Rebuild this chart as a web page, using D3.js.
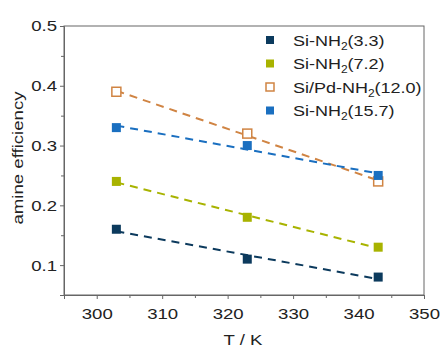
<!DOCTYPE html>
<html><head><meta charset="utf-8">
<script src="https://cdn.jsdelivr.net/npm/d3@7"></script>
<style>body{margin:0;background:#fff}svg{display:block}text{font-family:"Liberation Sans",Arial,sans-serif}</style>
</head><body><svg id="c" width="443" height="349"></svg>
<script>
const temps = [303, 323, 343];
const seriesNames = ["Si-NH2(3.3)", "Si-NH2(7.2)", "Si/Pd-NH2(12.0)", "Si-NH2(15.7)"];
const s33 = [0.16, 0.11, 0.08];
const s72 = [0.24, 0.18, 0.13];
const s120 = [0.39, 0.32, 0.24];
const s157 = [0.33, 0.30, 0.25];
const xTicks = [300, 310, 320, 330, 340, 350];
const yTicks = [0.1, 0.2, 0.3, 0.4, 0.5];

const colors = ["#0c3a5d", "#a8b300", "#d08443", "#1a6fc0"];
const hollow = [false, false, true, false];
const values = [s33, s72, s120, s157];

const svg = d3.select("#c");
const L = 64, R = 424, T = 26, B = 295;
const SX = 1.2;
const x = d3.scaleLinear().domain([295, 350]).range([L, R]);
const y = d3.scaleLinear().domain([0.05, 0.5]).range([B, T]);
const axisColor = "#666";

svg.append("rect").attr("x", L).attr("y", T).attr("width", R - L).attr("height", B - T)
  .attr("fill", "none").attr("stroke", axisColor).attr("stroke-width", 1);

const xMinor = d3.range(295, 351, 5).filter(v => v % 10 !== 0);
const yMinor = [0.05, 0.15, 0.25, 0.35, 0.45];
svg.append("g").attr("transform", `translate(0,${B})`)
  .call(d3.axisBottom(x).tickValues(xMinor).tickSize(3).tickFormat(""))
  .call(g => { g.select(".domain").remove(); g.selectAll("line").attr("stroke", axisColor); });
svg.append("g").attr("transform", `translate(${L},0)`)
  .call(d3.axisLeft(y).tickValues(yMinor).tickSize(3).tickFormat(""))
  .call(g => { g.select(".domain").remove(); g.selectAll("line").attr("stroke", axisColor); });

const xa = svg.append("g").attr("transform", `translate(0,${B})`)
  .call(d3.axisBottom(x).tickValues(xTicks).tickSize(4).tickPadding(9).tickFormat(d3.format("d")));
const ya = svg.append("g").attr("transform", `translate(${L},0)`)
  .call(d3.axisLeft(y).tickValues(yTicks).tickSize(4).tickPadding(4).tickFormat(d3.format(".1f")));
[xa, ya].forEach(g => {
  g.select(".domain").attr("stroke", axisColor);
  g.selectAll("line").attr("stroke", axisColor);
  g.selectAll("text").attr("font-size", 15.5).attr("fill", "#222")
    .attr("font-family", '"Liberation Sans",Arial,sans-serif');
});
xa.selectAll("text").attr("transform", `scale(${SX},1)`);
ya.selectAll("text").attr("x", null).attr("transform", `translate(-7,0) scale(${SX},1)`);

svg.append("text").attr("transform", `translate(243,345) scale(${SX},1)`).attr("text-anchor", "middle")
  .attr("font-size", 15.5).attr("fill", "#222").text("T / K");
svg.append("text").attr("transform", `translate(23,${158}) rotate(-90) scale(${SX},1)`)
  .attr("text-anchor", "middle").attr("font-size", 15.5).attr("fill", "#222").text("amine efficiency");

function fit(xs, ys) {
  const mx = d3.mean(xs), my = d3.mean(ys);
  const b = d3.sum(xs.map((v, i) => (v - mx) * (ys[i] - my))) / d3.sum(xs.map(v => (v - mx) ** 2));
  return v => my + b * (v - mx);
}
const line = d3.line().x(d => x(d[0])).y(d => y(d[1]));
values.forEach((vals, i) => {
  const f = fit(temps, vals);
  const ends = [temps[0], temps[temps.length - 1]];
  svg.append("path").datum(ends.map(t => [t, f(t)])).attr("d", line)
    .attr("fill", "none").attr("stroke", colors[i]).attr("stroke-width", 2)
    .attr("stroke-dasharray", "8,6");
});

const ms = 9;
values.forEach((vals, i) => {
  svg.append("g").selectAll("rect").data(temps.map((t, j) => [t, vals[j]])).join("rect")
    .attr("x", d => x(d[0]) - ms / 2).attr("y", d => y(d[1]) - ms / 2)
    .attr("width", ms).attr("height", ms)
    .attr("fill", hollow[i] ? "#fff" : colors[i])
    .attr("stroke", colors[i]).attr("stroke-width", hollow[i] ? 1.5 : 0);
});

const lg = svg.append("g");
seriesNames.forEach((name, i) => {
  const cy = 40 + i * 23.5;
  lg.append("rect").attr("x", 266).attr("y", cy - 4).attr("width", 8).attr("height", 8)
    .attr("fill", hollow[i] ? "#fff" : colors[i]).attr("stroke", colors[i]).attr("stroke-width", hollow[i] ? 1.5 : 0);
  const t = lg.append("text").attr("transform", `translate(293,${cy + 5.5}) scale(${SX},1)`)
    .attr("font-size", 15).attr("fill", "#222");
  const parts = name.split("NH2");
  t.append("tspan").text(parts[0] + "NH");
  t.append("tspan").attr("font-size", 10).attr("dy", 4).text("2");
  t.append("tspan").attr("dy", -4).text(parts[1]);
});
</script></body></html>
